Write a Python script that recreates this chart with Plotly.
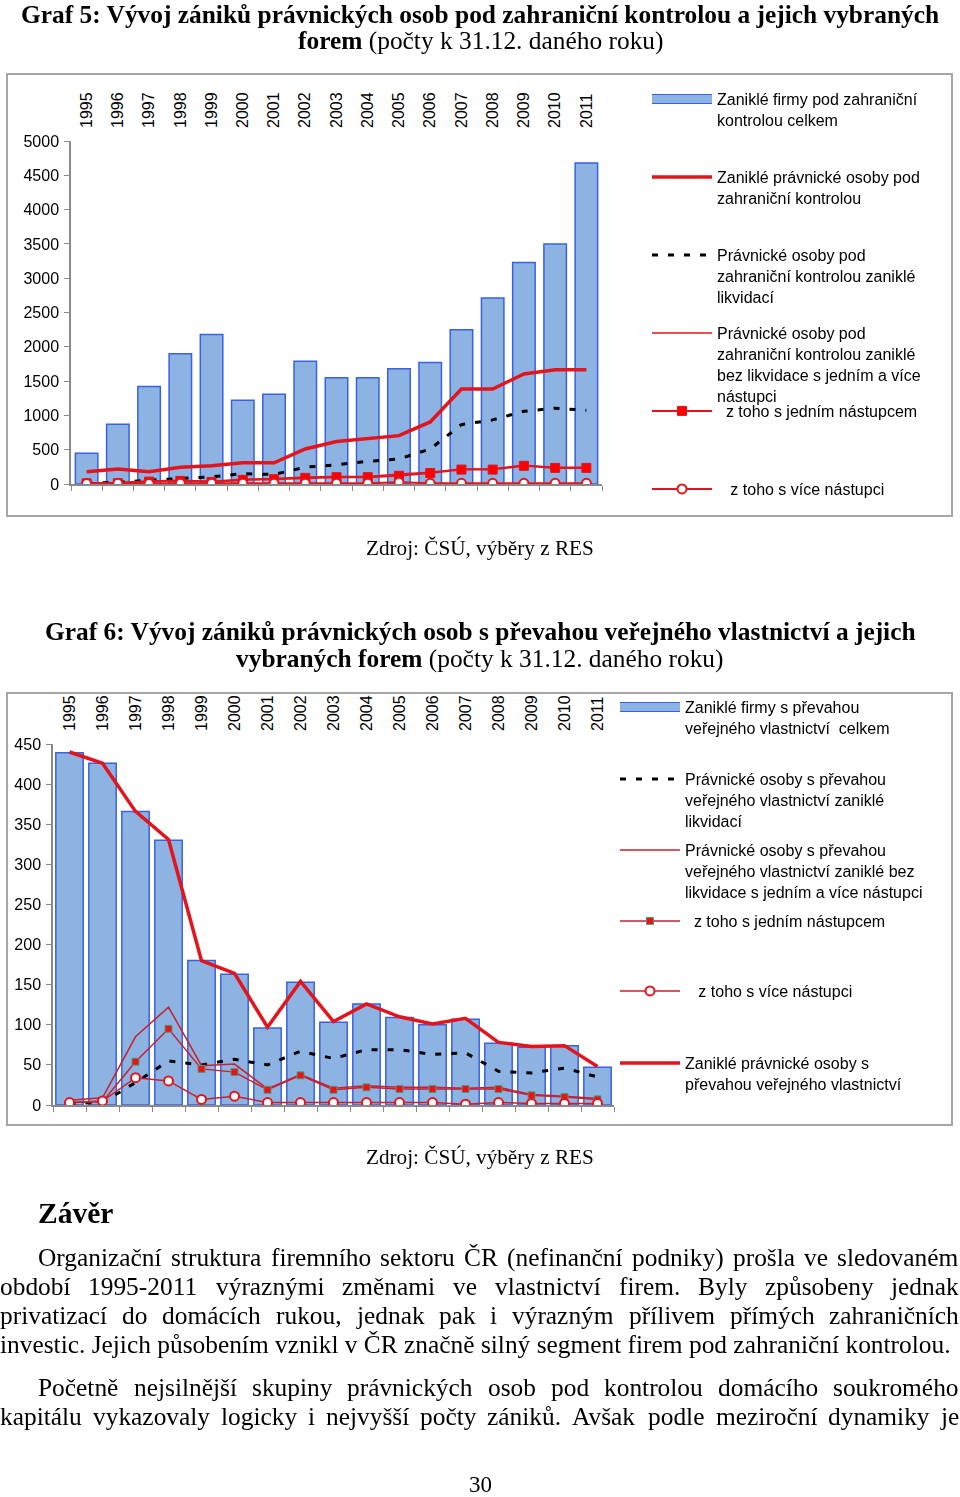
import plotly.graph_objects as go

W, H = 960, 1497

years = [str(y) for y in range(1995, 2012)]

# Graf 5 – foreign control
g5_total = [450, 870, 1420, 1900, 2180, 1220, 1310, 1790, 1550, 1550, 1680, 1770, 2250, 2710, 3230, 3500, 4680]
g5_zanikle = [180, 220, 180, 245, 265, 310, 310, 510, 620, 665, 705, 905, 1385, 1385, 1605, 1665, 1665]
g5_likvidaci = [10, 25, 55, 75, 105, 150, 140, 245, 280, 330, 365, 510, 865, 935, 1060, 1105, 1075]
g5_bez = [18, 22, 43, 55, 40, 70, 80, 102, 110, 110, 145, 170, 220, 220, 275, 245, 245]
g5_jednim = [10, 12, 35, 45, 30, 60, 70, 90, 100, 100, 120, 160, 210, 210, 265, 235, 235]
g5_vice = [8, 10, 8, 10, 10, 10, 10, 12, 10, 10, 25, 10, 10, 10, 10, 10, 10]

# Graf 6 – public ownership
g6_total = [439, 426, 366, 330, 180, 163, 96, 153, 103, 126, 109, 100, 107, 77, 72, 74, 47]
g6_zanikle = [440, 426, 366, 331, 180, 164, 97, 154, 104, 126, 110, 101, 108, 78, 73, 74, 48]
g6_likvidaci = [2, 3, 28, 55, 50, 57, 50, 67, 58, 69, 69, 63, 65, 42, 40, 46, 35]
g6_bez = [6, 9, 85, 122, 49, 51, 20, 38, 21, 24, 22, 22, 21, 22, 13, 11, 8]
g6_jednim = [3, 4, 54, 95, 45, 41, 19, 37, 19, 22, 20, 20, 20, 20, 12, 10, 7]
g6_vice = [3, 5, 34, 30, 7, 11, 3, 3, 3, 3, 3, 3, 1, 3, 2, 2, 2]

legend5 = [
    "Zaniklé firmy pod zahraniční<br>kontrolou celkem",
    "Zaniklé právnické osoby pod<br>zahraniční kontrolou",
    "Právnické osoby pod<br>zahraniční kontrolou zaniklé<br>likvidací",
    "Právnické osoby pod<br>zahraniční kontrolou zaniklé<br>bez likvidace s jedním a více<br>nástupci",
    "\u00a0\u00a0z toho s jedním nástupcem",
    "\u00a0\u00a0\u00a0z toho s více nástupci",
]
legend6 = [
    "Zaniklé firmy s převahou<br>veřejného vlastnictví  celkem",
    "Právnické osoby s převahou<br>veřejného vlastnictví zaniklé<br>likvidací",
    "Právnické osoby s převahou<br>veřejného vlastnictví zaniklé bez<br>likvidace s jedním a více nástupci",
    "\u00a0\u00a0z toho s jedním nástupcem",
    "\u00a0\u00a0\u00a0z toho s více nástupci",
    "Zaniklé právnické osoby s<br>převahou veřejného vlastnictví",
]

SANS = "Arial, Liberation Sans, sans-serif"
SERIF = "Times New Roman, Liberation Serif, serif"
BAR_FILL = "#8db3e2"
BAR_LINE = "#3a62e0"
RED = "#e3141c"
DRED = "#c8202e"
GRAY = "#8a8a8a"
NONE = [None] * len(years)


def px(x):
    return x / W


def py(y):
    return 1 - y / H


fig = go.Figure()

# ---------- Graf 5 ----------
fig.add_trace(go.Bar(x=years, y=g5_total, width=0.72, marker=dict(color=BAR_FILL, line=dict(color=BAR_LINE, width=1.5)),
                     name=legend5[0], showlegend=False, xaxis="x", yaxis="y"))
# legend swatch for the bars (wide rectangle): border + fill
fig.add_trace(go.Scatter(x=years, y=NONE, mode="lines", line=dict(color=BAR_LINE, width=10),
                         name=legend5[0], legend="legend", xaxis="x", yaxis="y", hoverinfo="skip"))
fig.add_trace(go.Scatter(x=years, y=NONE, mode="lines", line=dict(color=BAR_FILL, width=8),
                         name="\u00a0", legend="legend3", xaxis="x", yaxis="y", hoverinfo="skip"))
fig.add_trace(go.Scatter(x=years, y=g5_zanikle, mode="lines", line=dict(color=RED, width=3.5),
                         name=legend5[1], legend="legend5", xaxis="x", yaxis="y"))
fig.add_trace(go.Scatter(x=years, y=g5_likvidaci, mode="lines", line=dict(color="black", width=3, dash="6px,10px"),
                         name=legend5[2], legend="legend6", xaxis="x", yaxis="y"))
fig.add_trace(go.Scatter(x=years, y=g5_bez, mode="lines", line=dict(color=RED, width=1.5),
                         name=legend5[3], legend="legend7", xaxis="x", yaxis="y"))
fig.add_trace(go.Scatter(x=years, y=g5_jednim, mode="lines+markers", line=dict(color=RED, width=2),
                         marker=dict(symbol="square", size=9, color="#ff0000", line=dict(color=RED, width=1)),
                         name=legend5[4], legend="legend8", xaxis="x", yaxis="y"))
fig.add_trace(go.Scatter(x=years, y=g5_vice, mode="lines+markers", line=dict(color=RED, width=2),
                         marker=dict(symbol="circle", size=9, color="white", line=dict(color=RED, width=2)),
                         name=legend5[5], legend="legend9", xaxis="x", yaxis="y"))
fig.add_trace(go.Scatter(x=years, y=g5_total, mode="markers", opacity=0, showlegend=False, hoverinfo="skip",
                         xaxis="x3", yaxis="y"))

# ---------- Graf 6 ----------
fig.add_trace(go.Bar(x=years, y=g6_total, width=0.83, marker=dict(color=BAR_FILL, line=dict(color=BAR_LINE, width=1.5)),
                     name=legend6[0], showlegend=False, xaxis="x2", yaxis="y2"))
fig.add_trace(go.Scatter(x=years, y=NONE, mode="lines", line=dict(color=BAR_LINE, width=10),
                         name=legend6[0], legend="legend2", xaxis="x2", yaxis="y2", hoverinfo="skip"))
fig.add_trace(go.Scatter(x=years, y=NONE, mode="lines", line=dict(color=BAR_FILL, width=8),
                         name="\u00a0", legend="legend4", xaxis="x2", yaxis="y2", hoverinfo="skip"))
fig.add_trace(go.Scatter(x=years, y=g6_likvidaci, mode="lines", line=dict(color="black", width=3, dash="6px,10px"),
                         name=legend6[1], legend="legend10", xaxis="x2", yaxis="y2"))
fig.add_trace(go.Scatter(x=years, y=g6_bez, mode="lines", line=dict(color=DRED, width=1.5),
                         name=legend6[2], legend="legend11", xaxis="x2", yaxis="y2"))
fig.add_trace(go.Scatter(x=years, y=g6_jednim, mode="lines+markers", line=dict(color=DRED, width=1.5),
                         marker=dict(symbol="square", size=7, color="#ee1111", line=dict(color="#4c9c84", width=1)),
                         name=legend6[3], legend="legend12", xaxis="x2", yaxis="y2"))
fig.add_trace(go.Scatter(x=years, y=g6_vice, mode="lines+markers", line=dict(color=DRED, width=1.5),
                         marker=dict(symbol="circle", size=9, color="white", line=dict(color=RED, width=2)),
                         name=legend6[4], legend="legend13", xaxis="x2", yaxis="y2"))
fig.add_trace(go.Scatter(x=years, y=g6_zanikle, mode="lines", line=dict(color=RED, width=3.5),
                         name=legend6[5], legend="legend14", xaxis="x2", yaxis="y2"))
fig.add_trace(go.Scatter(x=years, y=g6_total, mode="markers", opacity=0, showlegend=False, hoverinfo="skip",
                         xaxis="x4", yaxis="y2"))

tickfont = dict(family=SANS, size=16, color="black")
x1dom = [px(71), px(602)]
x2dom = [px(53), px(614)]

top_axis = dict(type="category", categoryarray=years, range=[-0.5, 16.5], side="top", tickangle=-90,
                showline=False, ticks="", showgrid=False, zeroline=False, tickfont=tickfont,
                ticklabelstandoff=12, automargin=False)
bottom_axis = dict(type="category", categoryarray=years, range=[-0.5, 16.5], side="bottom",
                   showticklabels=False, showline=True, linecolor=GRAY, linewidth=1.5, ticks="outside",
                   tickson="boundaries", ticklen=5, tickcolor=GRAY, showgrid=False, zeroline=False,
                   automargin=False)

fig.update_layout(
    width=W, height=H, margin=dict(l=0, r=0, t=0, b=0, pad=0, autoexpand=False),
    paper_bgcolor="white", plot_bgcolor="white", showlegend=True,
    xaxis=dict(top_axis, domain=x1dom, anchor="y"),
    xaxis3=dict(bottom_axis, domain=x1dom, anchor="y", overlaying="x"),
    yaxis=dict(domain=[py(484), py(141)], range=[0, 5000], dtick=500, showline=True, linecolor=GRAY, linewidth=1.5,
               ticks="outside", ticklen=5, tickcolor=GRAY, showgrid=False, zeroline=False, tickfont=tickfont,
               anchor="x", ticklabelstandoff=2, automargin=False),
    xaxis2=dict(top_axis, domain=x2dom, anchor="y2"),
    xaxis4=dict(bottom_axis, domain=x2dom, anchor="y2", overlaying="x2"),
    yaxis2=dict(domain=[py(1105), py(744)], range=[0, 450], dtick=50, showline=True, linecolor=GRAY, linewidth=1.5,
                ticks="outside", ticklen=5, tickcolor=GRAY, showgrid=False, zeroline=False, tickfont=tickfont,
                anchor="x2", ticklabelstandoff=2, automargin=False),
)

legfont = dict(family=SANS, size=16, color="black")


def leg(text_x, line1_y):
    return dict(x=px(text_x - 70), y=py(line1_y - 18), xanchor="left", yanchor="top", bgcolor="rgba(0,0,0,0)",
                font=legfont, valign="top", borderwidth=0, tracegroupgap=0, itemwidth=60)


l5_ids = ["legend", "legend5", "legend6", "legend7", "legend8", "legend9"]
l5_y = [100, 178, 256, 334, 412, 490]
l6_ids = ["legend2", "legend10", "legend11", "legend12", "legend13", "legend14"]
l6_y = [708, 780, 851, 922, 992, 1064]
legs = {}
for lid, yy in zip(l5_ids, l5_y):
    legs[lid] = leg(717, yy)
for lid, yy in zip(l6_ids, l6_y):
    legs[lid] = leg(685, yy)
legs["legend3"] = leg(717, l5_y[0])
legs["legend4"] = leg(685, l6_y[0])
fig.update_layout(**legs)

# frames
for (x0, y0, x1, y1) in [(7, 74, 952, 516), (7, 693, 952, 1125)]:
    fig.add_shape(type="rect", xref="paper", yref="paper", x0=px(x0), x1=px(x1), y0=py(y1), y1=py(y0),
                  line=dict(color="#a6a6a6", width=2), fillcolor="rgba(0,0,0,0)", layer="below")


def txt(text, x, y, size, anchor="center", bold=False):
    fig.add_annotation(text=f"<b>{text}</b>" if bold else text, x=px(x), y=py(y), xref="paper", yref="paper",
                       xanchor=anchor, yanchor="middle", showarrow=False, borderpad=0, borderwidth=0,
                       font=dict(family=SERIF, size=size, color="black"))


TSIZE = 25.4
txt("<b>Graf 5: Vývoj zániků právnických osob pod zahraniční kontrolou a jejich vybraných</b>", 480, 14, TSIZE)
txt("<b>forem</b> (počty k 31.12. daného roku)", 480, 41, TSIZE)
txt("Zdroj: ČSÚ, výběry z RES", 480, 548, 21.2)
txt("<b>Graf 6: Vývoj zániků právnických osob s převahou veřejného vlastnictví a jejich</b>", 480, 631, TSIZE)
txt("<b>vybraných forem</b> (počty k 31.12. daného roku)", 480, 659, TSIZE)
txt("Zdroj: ČSÚ, výběry z RES", 480, 1157, 21.2)
txt("Závěr", 38, 1213, 29.5, anchor="left", bold=True)

# Times New Roman advance widths (1/1000 em) for justified paragraph layout
TNR = {' ': 250, 'a': 444, 'b': 500, 'c': 444, 'd': 500, 'e': 444, 'f': 333, 'g': 500, 'h': 500, 'i': 278,
       'j': 278, 'k': 500, 'l': 278, 'm': 778, 'n': 500, 'o': 500, 'p': 500, 'q': 500, 'r': 333, 's': 389,
       't': 278, 'u': 500, 'v': 500, 'w': 722, 'x': 500, 'y': 500, 'z': 444, '.': 250, ',': 250, '-': 333,
       '(': 333, ')': 333, 'A': 722, 'B': 667, 'C': 667, 'J': 389, 'O': 722, 'P': 556, 'R': 667, 'S': 556}
BASE = str.maketrans("áčďéěíňóřšťúůýžČŘŠŽÚ", "acdeeinorstuuyzCRSZU")


def tw(s, size):
    return sum(TNR.get(c, 500) for c in s.translate(BASE)) * size / 1000


PSIZE = 25.4
para = [
    ("Organizační struktura firemního sektoru ČR (nefinanční podniky) prošla ve sledovaném", 38, 1257, True),
    ("období 1995-2011 výraznými změnami ve vlastnictví firem. Byly způsobeny jednak", 0, 1286, True),
    ("privatizací do domácích rukou, jednak pak i výrazným přílivem přímých zahraničních", 0, 1315, True),
    ("investic. Jejich působením vznikl v ČR značně silný segment firem pod zahraniční kontrolou.", 0, 1344, False),
    ("Početně nejsilnější skupiny právnických osob pod kontrolou domácího soukromého", 38, 1387, True),
    ("kapitálu vykazovaly logicky i nejvyšší počty zániků. Avšak podle meziroční dynamiky je", 0, 1416, True),
]
RIGHT = 959
for t, x0, y, justify in para:
    if not justify:
        txt(t, x0, y, PSIZE, anchor="left")
        continue
    words = t.split(" ")
    widths = [tw(w, PSIZE) for w in words]
    gap = (RIGHT - x0 - sum(widths)) / (len(words) - 1)
    cx = x0
    n = len(words)
    for i, (w, wd) in enumerate(zip(words, widths)):
        if i == n - 1:
            txt(w, RIGHT, y, PSIZE, anchor="right")
        else:
            txt(w, cx, y, PSIZE, anchor="left")
        cx += wd + gap
txt("30", 480, 1484, 23)

fig.write_html("out.html", config={"displayModeBar": False},
               post_script="document.body.style.margin='0';document.documentElement.style.overflow='hidden';")
